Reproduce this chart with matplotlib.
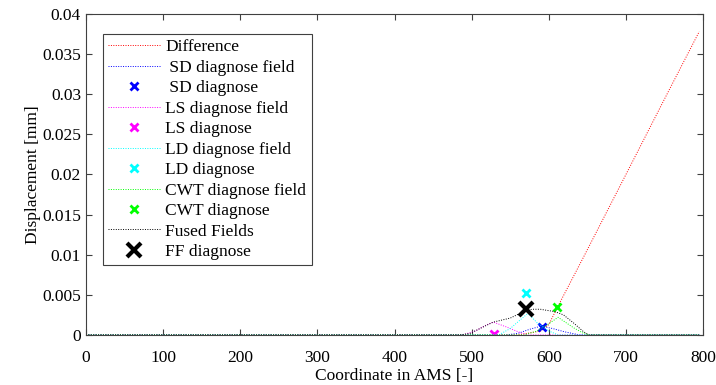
import matplotlib
matplotlib.use("Agg")
import matplotlib.pyplot as plt
from matplotlib.ticker import FuncFormatter

plt.rcParams['font.family'] = ['Liberation Serif', 'DejaVu Serif']

x_diff = [0, 560, 590, 600, 612, 645, 700, 750, 795]
y_diff = [0, 0, 0.0005, 0.0013, 0.0036, 0.0097, 0.0200, 0.0294, 0.0378]

x_sd = [0, 545, 560, 575, 590, 605, 620, 640, 795]
y_sd = [0, 0, 0.0002, 0.0007, 0.0011, 0.0008, 0.0004, 0, 0]

x_ls = [0, 488, 505, 518, 528, 545, 560, 572, 795]
y_ls = [0, 0, 0.0005, 0.0012, 0.0016, 0.0010, 0.0004, 0, 0]

x_ld = [0, 535, 550, 562, 573, 585, 600, 612, 795]
y_ld = [0, 0, 0.0008, 0.0018, 0.0027, 0.0015, 0.0005, 0, 0]

x_cwt = [0, 568, 585, 600, 612, 632, 645, 652, 795]
y_cwt = [0, 0, 0.0005, 0.0014, 0.0022, 0.0009, 0.0002, 0, 0]

x_ff = [0, 485, 498, 515, 528, 550, 565, 578, 589, 608, 619, 632, 645, 652, 795]
y_ff = [0, 0, 0.0002, 0.0010, 0.0016, 0.0021, 0.0028, 0.0032, 0.0032, 0.0029, 0.0025, 0.0015, 0.0004, 0, 0]

diag_sd = (591, 0.0010)
diag_ls = (529, 0.0001)
diag_ld = (571, 0.0052)
diag_cwt = (611, 0.0035)
diag_ff = (571, 0.0032)

fig = plt.figure(figsize=(7.16, 3.85), dpi=100)
ax = fig.add_axes([0.120, 0.130, 0.862, 0.834])

lw = 0.7
dots = (0, (1, 1.5))
ax.plot(x_diff, y_diff, ls=dots, color='#ff0000', lw=lw, label='Difference')
ax.plot(x_sd, y_sd, ls=dots, color='#0000ff', lw=lw, label=' SD diagnose field')
ax.plot(*diag_sd, 'x', color='#0000ff', ms=6, mew=2, ls='none', label=' SD diagnose')
ax.plot(x_ls, y_ls, ls=dots, color='#ff00ff', lw=lw, label='LS diagnose field')
ax.plot(*diag_ls, 'x', color='#ff00ff', ms=6, mew=2, ls='none', label='LS diagnose')
ax.plot(x_ld, y_ld, ls=dots, color='#00ffff', lw=lw, label='LD diagnose field')
ax.plot(*diag_ld, 'x', color='#00ffff', ms=6, mew=2, ls='none', label='LD diagnose')
ax.plot(x_cwt, y_cwt, ls=dots, color='#00ff00', lw=lw, label='CWT diagnose field')
ax.plot(*diag_cwt, 'x', color='#00ff00', ms=6, mew=2, ls='none', label='CWT diagnose')
ax.plot(x_ff, y_ff, ls=dots, color='k', lw=lw, label='Fused Fields')
ax.plot(*diag_ff, 'x', color='k', ms=10, mew=3, ls='none', label='FF diagnose')

ax.set_xlim(0, 800)
ax.set_ylim(0, 0.04)
ax.set_xticks(range(0, 801, 100))
ax.set_yticks([i * 0.005 for i in range(9)])
ax.yaxis.set_major_formatter(FuncFormatter(lambda v, p: f"{v:g}"))
ax.tick_params(direction='in', top=True, right=True, labelsize=12.5, length=4, color='#404040')
ax.tick_params(axis='x', pad=11)
for s in ax.spines.values():
    s.set_color('#404040')
    s.set_linewidth(0.8)

ax.set_xlabel('Coordinate in AMS [-]', fontsize=12.5, labelpad=1)
ax.set_ylabel('Displacement [mm]', fontsize=12.5, labelpad=1)

leg = ax.legend(loc='upper left', bbox_to_anchor=(0.0276, 0.938), fontsize=12.5,
                labelspacing=0.25, handlelength=3.0, handletextpad=0.3,
                borderpad=0.3, borderaxespad=0, fancybox=False, framealpha=1)
leg.get_frame().set_edgecolor('#404040')
leg.get_frame().set_linewidth(0.8)

fig.savefig('out.png', dpi=100)
